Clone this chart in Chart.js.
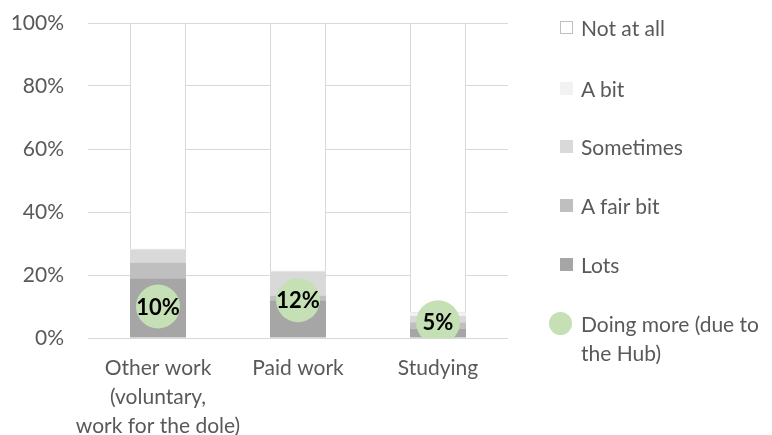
<!DOCTYPE html>
<html>
<head>
<meta charset="utf-8">
<script src="https://cdn.jsdelivr.net/npm/chart.js@4/dist/chart.umd.min.js"></script>
<style>
  html, body { margin: 0; padding: 0; background: #fff; }
  #wrap { position: relative; width: 772px; height: 435px; }
  #legend { position: absolute; left: 560px; top: 0; font-family: Lato, "Open Sans", sans-serif; font-size: 21px; color: #595959; }
  .item { position: absolute; left: 0; white-space: nowrap; line-height: 29px; }
  .box { position: absolute; left: 0; width: 13px; height: 13px; box-sizing: border-box; }
  .txt { position: absolute; left: 21px; top: 0; }
</style>
</head>
<body>
<div id="wrap">
  <canvas id="chart" width="772" height="435"></canvas>
  <div id="legend"></div>
</div>
<script>
// categories (multi-line axis labels)
const categories = [
    ['Other work', '(voluntary,', 'work for the dole)'],
    'Paid work',
    'Studying'
];

// stacked shares, % of respondents
const lots      = [19, 12, 3];
const fairBit   = [5, 1.5, 2];
const sometimes = [4, 7.5, 2];
const aBit      = [0, 0, 1];
const notAtAll  = [72, 79, 92];

// share doing more because of the Hub
const doingMore = [10, 12, 5];

const yTicks = [0, 20, 40, 60, 80, 100];

const FONT = 'Lato, "Open Sans", sans-serif';
const GREY_TXT = '#595959';

// draws "10%" etc. inside the green dots
const dotLabels = {
    id: 'dotLabels',
    afterDatasetsDraw(chart) {
        const ctx = chart.ctx;
        chart.data.datasets.forEach((ds, i) => {
            if (ds.type !== 'line') return;
            const meta = chart.getDatasetMeta(i);
            ctx.save();
            ctx.font = 'bold 22px ' + FONT;
            ctx.fillStyle = '#000';
            ctx.textAlign = 'center';
            ctx.textBaseline = 'middle';
            meta.data.forEach((pt, j) => {
                ctx.fillText(ds.data[j] + '%', pt.x, pt.y + 1);
            });
            ctx.restore();
        });
    }
};

const barDs = (label, data, color, border) => ({
    label: label,
    data: data,
    backgroundColor: color,
    borderColor: border || color,
    borderWidth: border ? 1 : 0,
    borderSkipped: false,
    barPercentage: 0.4,
    categoryPercentage: 1,
    stack: 'answers',
    order: 1
});

const chart = new Chart(document.getElementById('chart'), {
    type: 'bar',
    data: {
        labels: categories,
        datasets: [
            barDs('Lots', lots, '#a6a6a6'),
            barDs('A fair bit', fairBit, '#bfbfbf'),
            barDs('Sometimes', sometimes, '#d9d9d9'),
            barDs('A bit', aBit, '#f2f2f2'),
            barDs('Not at all', notAtAll, '#ffffff', '#d9d9d9'),
            {
                type: 'line',
                label: 'Doing more (due to the Hub)',
                data: doingMore,
                yAxisID: 'yDots',
                showLine: false,
                pointRadius: 22,
                pointBackgroundColor: '#c5e0b4',
                pointBorderWidth: 0,
                order: 0
            }
        ]
    },
    options: {
        responsive: false,
        animation: false,
        layout: { padding: { top: 23, right: 264, bottom: 0, left: 0 } },
        plugins: { legend: { display: false }, tooltip: { enabled: false } },
        scales: {
            x: {
                stacked: true,
                grid: { display: false },
                border: { display: false },
                ticks: { color: GREY_TXT, font: { family: FONT, size: 21, lineHeight: 1.38 }, padding: 8, maxRotation: 0, autoSkip: false },
                afterFit: s => { s.height = 97; }
            },
            y: {
                stacked: true,
                min: 0,
                max: 100,
                afterBuildTicks: s => { s.ticks = yTicks.map(v => ({ value: v })); },
                ticks: { color: GREY_TXT, font: { family: FONT, size: 21 }, padding: 24, callback: v => v + '%' },
                grid: { color: '#d9d9d9', lineWidth: 1, drawTicks: false },
                border: { display: false },
                afterFit: s => { s.width = 88; s.paddingTop = 0; s.paddingBottom = 0; }
            },
            yDots: { display: false, min: 0, max: 100 }
        }
    },
    plugins: [dotLabels]
});

// legend on the right, top to bottom
const legendItems = [
    { text: 'Not at all', color: '#ffffff', border: '#bfbfbf', y: 27 },
    { text: 'A bit', color: '#f2f2f2', y: 88 },
    { text: 'Sometimes', color: '#d9d9d9', y: 146 },
    { text: 'A fair bit', color: '#bfbfbf', y: 205 },
    { text: 'Lots', color: '#a6a6a6', y: 264 },
    { text: 'Doing more (due to<br>the Hub)', color: '#c5e0b4', y: 323, dot: true }
];
const legend = document.getElementById('legend');
legendItems.forEach(it => {
    const d = document.createElement('div');
    d.className = 'item';
    d.style.top = (it.y - 14.5) + 'px';
    const b = document.createElement('span');
    b.className = 'box';
    if (it.dot) {
        b.style.width = '23px'; b.style.height = '23px'; b.style.borderRadius = '50%';
        b.style.left = '-11px'; b.style.top = '3px';
    } else {
        b.style.top = '8px';
        if (it.border) b.style.border = '1px solid ' + it.border;
    }
    b.style.background = it.color;
    const t = document.createElement('span');
    t.className = 'txt';
    t.innerHTML = it.text;
    d.appendChild(b); d.appendChild(t);
    legend.appendChild(d);
});
</script>
</body>
</html>
